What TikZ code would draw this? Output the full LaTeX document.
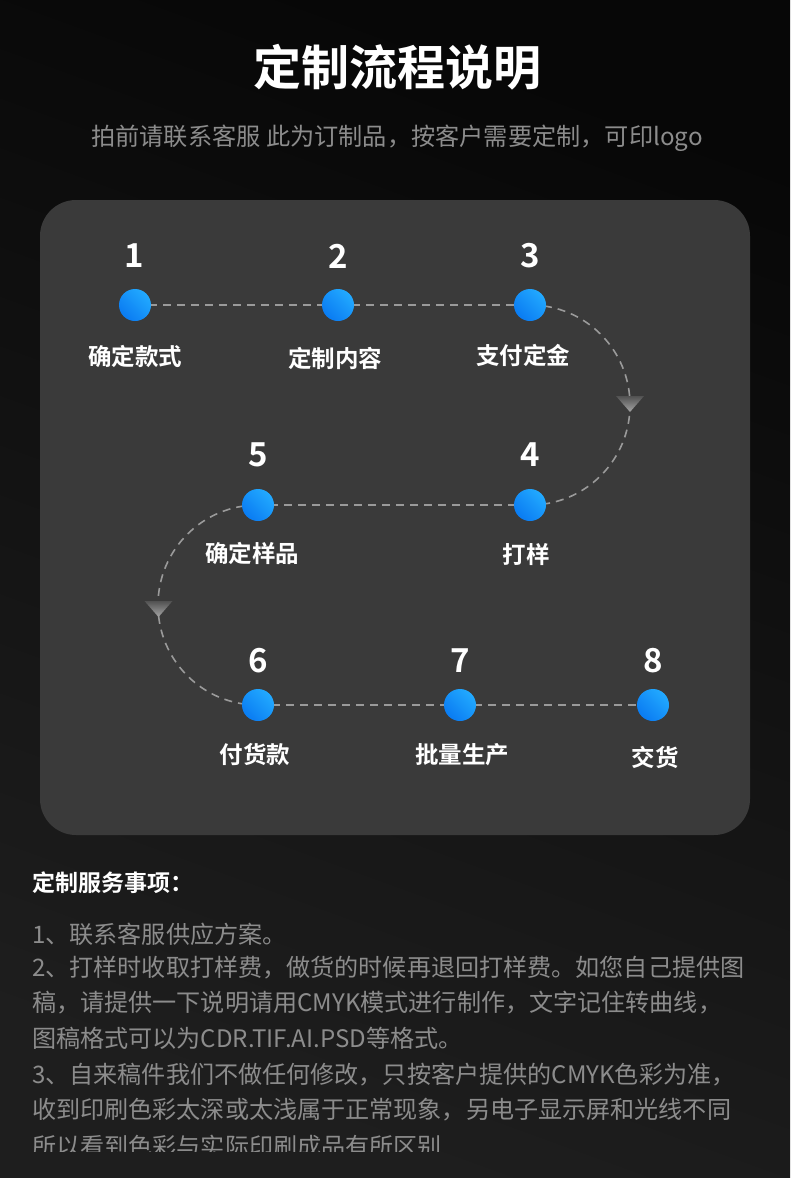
\documentclass[tikz,border=0pt]{standalone}
\usepackage{fontspec}
\setmainfont{Noto Sans CJK SC}[BoldFont={Noto Sans CJK SC Bold}]
\definecolor{bgtop}{HTML}{070707}
\definecolor{bgbot}{HTML}{1E1E1E}
\definecolor{card}{HTML}{3A3A3A}
\definecolor{dashc}{HTML}{9A9A9A}
\definecolor{greytxt}{HTML}{8C8C8C}
\definecolor{blueA}{HTML}{0A7CF2}
\definecolor{blueB}{HTML}{22A9FF}
\tikzset{
  stepdot/.style={circle, minimum size=32pt, inner sep=0pt, left color=blueA, right color=blueB, shading angle=135},
  stepnum/.style={text=white, font=\bfseries\fontsize{33}{36}\selectfont, inner sep=0pt},
  steplabel/.style={text=white, font=\bfseries\fontsize{23.5}{26}\selectfont, inner sep=0pt},
  flowline/.style={draw=dashc, line width=1.6pt, dash pattern=on 8pt off 6pt},
  arrowtri/.style={top color=black!68!white, bottom color=black!35!white, draw=none},
  bodytxt/.style={text=greytxt, font=\fontsize{24.1}{27}\selectfont, anchor=west, inner sep=0pt},
}
\begin{document}
\begin{tikzpicture}[x=1pt,y=-1pt]
\useasboundingbox (0,0) rectangle (790,1178);
\shade[top color=bgtop, bottom color=bgbot, shading angle=-20] (0,0) rectangle (790,1178);
\fill[card, rounded corners=36pt] (40,200) rectangle (750,835);

\node[text=white, font=\bfseries\fontsize{48}{52}\selectfont, inner sep=0pt] (title) at (397,67) {定制流程说明};
\node[text=greytxt, font=\fontsize{24.2}{27}\selectfont, inner sep=0pt] (sub) at (397,138) {拍前请联系客服 此为订制品，按客户需要定制，可印logo};

% positions
\coordinate (p1) at (135,305);
\coordinate (p2) at (338,305);
\coordinate (p3) at (530,305);
\coordinate (p4) at (530,505);
\coordinate (p5) at (258,505);
\coordinate (p6) at (258,705);
\coordinate (p7) at (460,705);
\coordinate (p8) at (653,705);

% connectors
\draw[flowline] (p1) -- (p2);
\draw[flowline] (p2) -- (p3);
\draw[flowline] (p3) arc[start angle=90, end angle=-90, radius=100pt];
\draw[flowline] (p4) -- (p5);
\draw[flowline] (p5) arc[start angle=90, end angle=270, radius=100pt];
\draw[flowline] (p6) -- (p7);
\draw[flowline] (p7) -- (p8);

% arrow marks
\coordinate (a1) at (630,404);
\coordinate (a2) at (158.5,609);
\shade[arrowtri] ([xshift=-14pt,yshift=8pt]a1) -- ([xshift=14pt,yshift=8pt]a1) -- ([yshift=-8pt]a1) -- cycle;
\shade[arrowtri] ([xshift=-14pt,yshift=8pt]a2) -- ([xshift=14pt,yshift=8pt]a2) -- ([yshift=-8pt]a2) -- cycle;

% dots
\foreach \i in {1,...,8} { \node[stepdot] (n\i) at (p\i) {}; }

% numbers
\node[stepnum] (m1) at (134,256) {1};
\node[stepnum] (m2) at (338,256) {2};
\node[stepnum] (m3) at (530,256) {3};
\node[stepnum] (m5) at (258,455) {5};
\node[stepnum] (m4) at (530,455) {4};
\node[stepnum] (m6) at (258,661) {6};
\node[stepnum] (m7) at (460,661) {7};
\node[stepnum] (m8) at (653,661) {8};

% labels
\node[steplabel] (l1) at (135,356) {确定款式};
\node[steplabel] (l2) at (335,358) {定制内容};
\node[steplabel] (l3) at (523,355) {支付定金};
\node[steplabel] (l5) at (252,553) {确定样品};
\node[steplabel] (l4) at (526,555) {打样};
\node[steplabel] (l6) at (255,755) {付货款};
\node[steplabel] (l7) at (462,755) {批量生产};
\node[steplabel] (l8) at (655,757) {交货};

% notes
\node[text=white, font=\bfseries\fontsize{23}{26}\selectfont, anchor=west, inner sep=0pt] (hd) at (32,883) {定制服务事项：};
\begin{scope}
\clip (0,0) rectangle (790,1151);
\node[bodytxt] (t1) at (32,934) {1、联系客服供应方案。};
\node[bodytxt] (t2) at (32,968) {2、打样时收取打样费，做货的时候再退回打样费。如您自己提供图};
\node[bodytxt] (t3) at (32,1003) {稿，请提供一下说明请用CMYK模式进行制作，文字记住转曲线，};
\node[bodytxt] (t4) at (32,1038) {图稿格式可以为CDR.TIF.AI.PSD等格式。};
\node[bodytxt] (t5) at (32,1075) {3、自来稿件我们不做任何修改，只按客户提供的CMYK色彩为准，};
\node[bodytxt] (t6) at (32,1110) {收到印刷色彩太深或太浅属于正常现象，另电子显示屏和光线不同};
\node[bodytxt] (t7) at (32,1146) {所以看到色彩与实际印刷成品有所区别};
\end{scope}
\end{tikzpicture}
\end{document}
